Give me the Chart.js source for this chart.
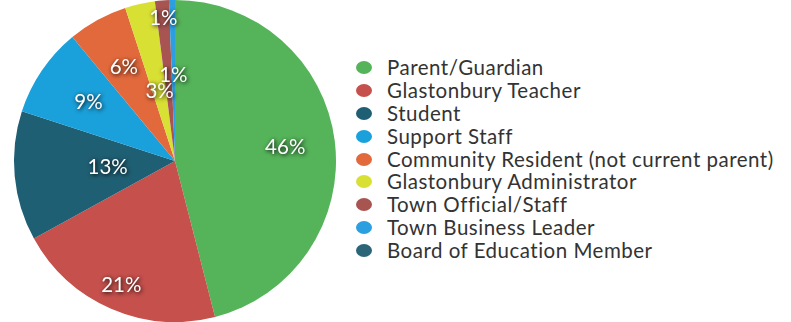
<!DOCTYPE html>
<html>
<head>
<meta charset="utf-8">
<script src="https://cdn.jsdelivr.net/npm/chart.js@4"></script>
<style>
  body { margin: 0; background: #fff; width: 791px; height: 322px; overflow: hidden; position: relative; font-family: Lato, "Noto Sans", sans-serif; }
  #pieWrap { position: absolute; left: 0; top: 0; width: 350px; height: 322px; }
  #legend { position: absolute; left: 356px; top: 56px; margin: 0; padding: 0; list-style: none; }
  #legend li { height: 22.9px; line-height: 22.9px; font-size: 20.5px; letter-spacing: 0.5px; color: #333; white-space: nowrap; display: flex; align-items: center; }
  #legend .dot { width: 16px; height: 13px; border-radius: 50%; margin-right: 15px; display: inline-block; }
</style>
</head>
<body>
<div id="pieWrap"><canvas id="pie"></canvas></div>
<ul id="legend"></ul>
<script>
// respondent groups
const groups = [
  "Parent/Guardian",
  "Glastonbury Teacher",
  "Student",
  "Support Staff",
  "Community Resident (not current parent)",
  "Glastonbury Administrator",
  "Town Official/Staff",
  "Town Business Leader",
  "Board of Education Member"
];
const shares = [46, 21, 13, 9, 6, 3, 1.4, 0.6, 0];
const colors = ["#55b45a", "#c5504c", "#1f5f73", "#1aa0da", "#e2693c", "#d8e034", "#a85552", "#2c9fe0", "#2a6578"];

// how far out each label sits (fraction of radius), like Excel's best fit
const labelRadius = [0.69, 0.84, 0.42, 0.65, 0.66, 0.44, 0.89, 0.53, 0.5];

const pctLabels = {
  id: "pctLabels",
  afterDatasetsDraw(chart) {
    const ctx = chart.ctx;
    const meta = chart.getDatasetMeta(0);
    ctx.save();
    ctx.font = "20.5px Lato, 'Noto Sans', sans-serif";
    ctx.textAlign = "center";
    ctx.textBaseline = "middle";
    ctx.fillStyle = "#fff";
    ctx.shadowColor = "rgba(0,0,0,1)";
    ctx.shadowBlur = 4;
    ctx.shadowOffsetX = 1;
    ctx.shadowOffsetY = 1;
    meta.data.forEach((arc, i) => {
      const v = shares[i];
      if (!v) return;
      const mid = (arc.startAngle + arc.endAngle) / 2;
      const r = arc.outerRadius * labelRadius[i];
      const x = arc.x + Math.cos(mid) * r;
      const y = arc.y + Math.sin(mid) * r;
      ctx.fillText(Math.round(v) + "%", x, y);
    });
    ctx.restore();
  }
};

const chart = new Chart(document.getElementById("pie"), {
  type: "pie",
  data: {
    labels: groups,
    datasets: [{
      data: shares,
      backgroundColor: colors,
      borderWidth: 0
    }]
  },
  options: {
    responsive: true,
    maintainAspectRatio: false,
    animation: false,
    layout: { padding: 0 },
    plugins: { legend: { display: false }, tooltip: { enabled: false } }
  },
  plugins: [pctLabels]
});

// legend as html, built from the chart's own labels
const legendEl = document.getElementById("legend");
chart.options.plugins.legend.labels.generateLabels(chart).forEach(item => {
  const li = document.createElement("li");
  li.innerHTML = `<span class="dot" style="background:${item.fillStyle}"></span>${item.text}`;
  legendEl.appendChild(li);
});
</script>
</body>
</html>
